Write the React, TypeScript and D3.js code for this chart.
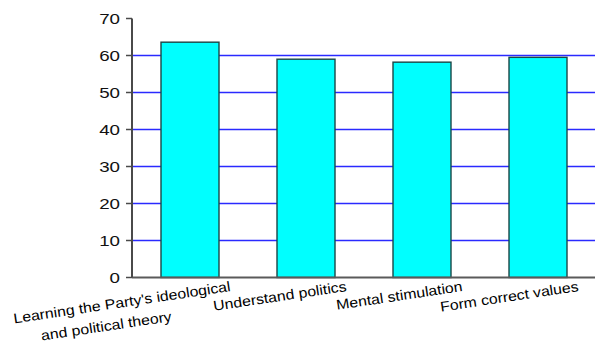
import React from "react";
import * as d3 from "d3";

const categories: string[][] = [
  ["Learning the Party's ideological", "and political theory"],
  ["Understand politics"],
  ["Mental stimulation"],
  ["Form correct values"],
];
const values: number[] = [63.6, 59.0, 58.2, 59.5];
const yTicks: number[] = [0, 10, 20, 30, 40, 50, 60, 70];
const gridTicks: number[] = [10, 20, 30, 40, 50, 60];

const W = 595;
const H = 345;
const left = 132;
const right = 596;
const top = 18.5;
const bottom = 277.5;

export default function App() {
  const x = d3
    .scaleBand<number>()
    .domain(values.map((_, i) => i))
    .range([left, right])
    .paddingInner(0.5)
    .paddingOuter(0.25);
  const y = d3.scaleLinear().domain([0, 70]).range([bottom, top]);
  const font = "Liberation Sans, Arial, sans-serif";
  const sx = 1.13;

  return (
    <svg
      width={W}
      height={H}
      style={{ position: "absolute", left: 0, top: 0, background: "#fff" }}
      fontFamily={font}
    >
      {gridTicks.map((t) => (
        <line
          key={"g" + t}
          x1={left}
          x2={W}
          y1={y(t)}
          y2={y(t)}
          stroke="#2a2aff"
          strokeWidth={1.3}
        />
      ))}
      {values.map((v, i) => (
        <rect
          key={"b" + i}
          x={x(i)!}
          y={y(v)}
          width={x.bandwidth()}
          height={y(0) - y(v)}
          fill="#00ffff"
          stroke="#1b4646"
          strokeWidth={1.4}
        />
      ))}
      <line x1={left} x2={W} y1={bottom} y2={bottom} stroke="#5a5a5a" strokeWidth={1.8} />
      <line x1={left} x2={left} y1={top} y2={bottom} stroke="#4a4a4a" strokeWidth={2} />
      {yTicks.map((t) => (
        <g key={"t" + t}>
          <line x1={left - 6} x2={left} y1={y(t)} y2={y(t)} stroke="#4a4a4a" strokeWidth={1.5} />
          <text
            transform={`translate(${left - 12},${y(t) + 5.5}) scale(1.25,1)`}
            textAnchor="end"
            fontSize={15}
            fill="#111"
          >
            {t}
          </text>
        </g>
      ))}
      {categories.map((lines, i) => {
        const cx = x(i)! + x.bandwidth() / 2 + 41;
        return (
          <g key={"c" + i} transform={`translate(${cx},${291}) rotate(-8.5) scale(${sx},1)`}>
            {lines.map((ln, j) =>
              j === 0 ? (
                <text key={j} x={0} y={0} textAnchor="end" fontSize={14} fill="#000">
                  {ln}
                </text>
              ) : (
                <text
                  key={j}
                  x={-128.5 / sx}
                  y={j * 21}
                  textAnchor="middle"
                  fontSize={14}
                  fill="#000"
                >
                  {ln}
                </text>
              )
            )}
          </g>
        );
      })}
    </svg>
  );
}
